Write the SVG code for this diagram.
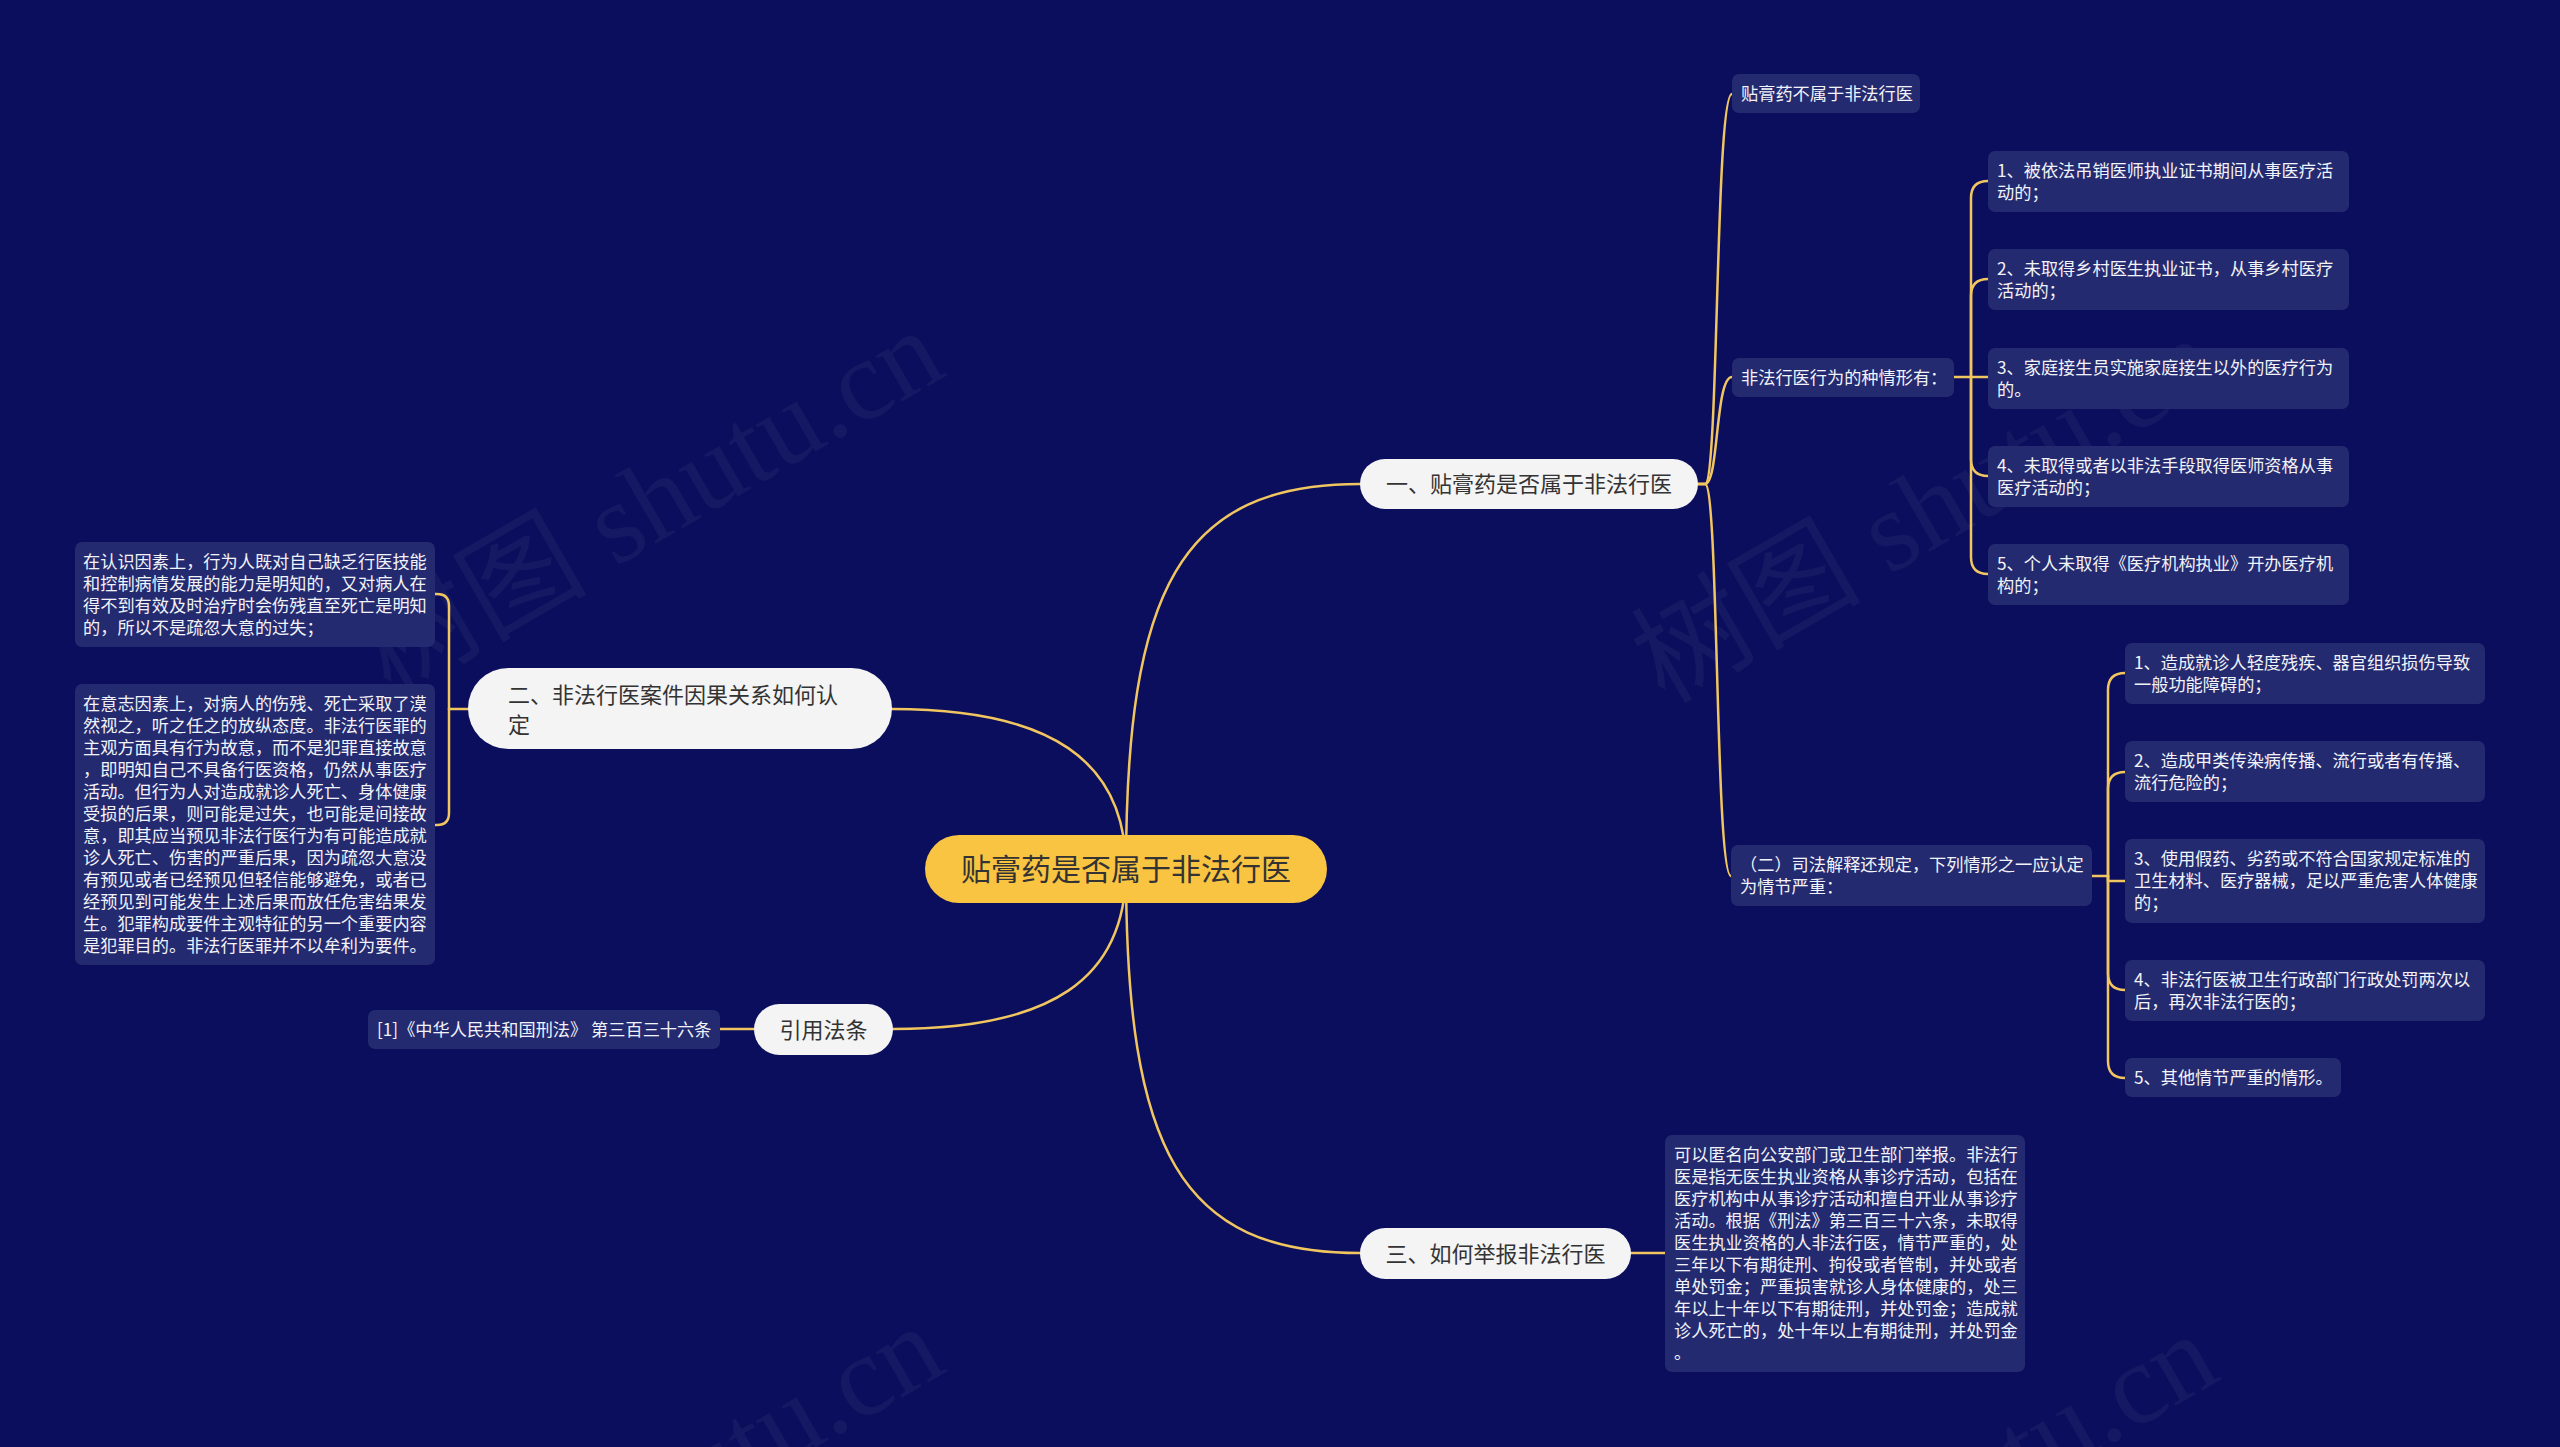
<svg xmlns="http://www.w3.org/2000/svg" width="2560" height="1447" viewBox="0 0 2560 1447">
<style>
text{font-family:"Noto Sans CJK SC","Noto Sans",sans-serif;}
.bg{fill:#0b0e5c;}
.wm{fill:#ffffff;fill-opacity:0.045;font-size:115px;font-family:"Liberation Serif","Noto Sans CJK SC",serif;}
.c{fill:none;stroke:#f1c660;stroke-width:2.5;stroke-linecap:round;}
.leaf rect{fill:#242a70;}
.leaf text{fill:#f2f3f8;font-size:17.2px;}
.l1 rect{fill:#f4f4f4;}
.l1 text{fill:#333333;font-size:22px;}
.root rect{fill:#f9c441;}
.root text{fill:#333333;font-size:30px;}
</style>
<rect class="bg" x="0" y="0" width="2560" height="1447"/>
<g id="watermarks">
<text class="wm" x="653" y="540" text-anchor="middle" transform="rotate(-30 653 506)">树图 shutu.cn</text>
<text class="wm" x="1927" y="548" text-anchor="middle" transform="rotate(-30 1927 514)">树图 shutu.cn</text>
<text class="wm" x="653" y="1536" text-anchor="middle" transform="rotate(-30 653 1502)">树图 shutu.cn</text>
<text class="wm" x="1927" y="1544" text-anchor="middle" transform="rotate(-30 1927 1510)">树图 shutu.cn</text>
</g>
<g id="connectors">
<path class="c" d="M1126 869 C1126 590 1180 484 1360 484"/>
<path class="c" d="M1126 869 C1126 760 1050 709 892 709"/>
<path class="c" d="M1126 869 C1126 980 1050 1029 893 1029"/>
<path class="c" d="M1126 869 C1126 1150 1180 1253 1360 1253"/>
<path class="c" d="M1698 484 H1705 C1719 484 1715 94 1732 94"/>
<path class="c" d="M1698 484 H1705 C1719 484 1715 377 1732 377"/>
<path class="c" d="M1698 484 H1705 C1719 484 1715 876 1731 876"/>
<path class="c" d="M468 709 H449"/>
<path class="c" d="M449 709 V606 Q449 594 437 594 H435"/>
<path class="c" d="M449 709 V813 Q449 825 437 825 H435"/>
<path class="c" d="M754 1029 H720"/>
<path class="c" d="M1631 1253 H1665"/>
<path class="c" d="M1954 377 H1988"/>
<path class="c" d="M1971 377 V198 Q1971 181 1988 181"/>
<path class="c" d="M1971 377 V296 Q1971 279 1988 279"/>
<path class="c" d="M1971 377 V459 Q1971 476 1988 476"/>
<path class="c" d="M1971 377 V557 Q1971 574 1988 574"/>
<path class="c" d="M2092 876 H2108"/>
<path class="c" d="M2108 876 V690 Q2108 673 2125 673"/>
<path class="c" d="M2108 876 V789 Q2108 772 2125 772"/>
<path class="c" d="M2108 876 V881 H2125"/>
<path class="c" d="M2108 876 V973 Q2108 990 2125 990"/>
<path class="c" d="M2108 876 V1061 Q2108 1078 2125 1078"/>
</g>
<g id="root" class="root">
<rect x="925" y="835" width="402" height="68" rx="34"/>
<text x="1126" y="880" text-anchor="middle">贴膏药是否属于非法行医</text>
</g>
<g id="n1" class="l1">
<rect x="1360" y="459" width="338" height="50" rx="25"/>
<text x="1529" y="492" text-anchor="middle">一、贴膏药是否属于非法行医</text>
</g>
<g id="n2" class="l1">
<rect x="468" y="668" width="424" height="81" rx="40.5"/>
<text x="508" y="703">二、非法行医案件因果关系如何认</text>
<text x="508" y="733">定</text>
</g>
<g id="n3" class="l1">
<rect x="754" y="1004" width="139" height="51" rx="25.5"/>
<text x="823.5" y="1038" text-anchor="middle">引用法条</text>
</g>
<g id="n4" class="l1">
<rect x="1360" y="1228" width="271" height="51" rx="25.5"/>
<text x="1495.5" y="1262" text-anchor="middle">三、如何举报非法行医</text>
</g>
<g id="n1a" class="leaf">
<rect x="1732" y="74" width="188" height="39" rx="7"/>
<text x="1741" y="100">贴膏药不属于非法行医</text>
</g>
<g id="n1b" class="leaf">
<rect x="1732" y="358" width="222" height="39" rx="7"/>
<text x="1741" y="384">非法行医行为的种情形有：</text>
</g>
<g id="n1b1" class="leaf">
<rect x="1988" y="151" width="361" height="61" rx="7"/>
<text x="1997" y="177">1、被依法吊销医师执业证书期间从事医疗活</text>
<text x="1997" y="199">动的；</text>
</g>
<g id="n1b2" class="leaf">
<rect x="1988" y="249" width="361" height="61" rx="7"/>
<text x="1997" y="275">2、未取得乡村医生执业证书，从事乡村医疗</text>
<text x="1997" y="297">活动的；</text>
</g>
<g id="n1b3" class="leaf">
<rect x="1988" y="348" width="361" height="61" rx="7"/>
<text x="1997" y="374">3、家庭接生员实施家庭接生以外的医疗行为</text>
<text x="1997" y="396">的。</text>
</g>
<g id="n1b4" class="leaf">
<rect x="1988" y="446" width="361" height="61" rx="7"/>
<text x="1997" y="472">4、未取得或者以非法手段取得医师资格从事</text>
<text x="1997" y="494">医疗活动的；</text>
</g>
<g id="n1b5" class="leaf">
<rect x="1988" y="544" width="361" height="61" rx="7"/>
<text x="1997" y="570">5、个人未取得《医疗机构执业》开办医疗机</text>
<text x="1997" y="592">构的；</text>
</g>
<g id="n1c" class="leaf">
<rect x="1731" y="845" width="361" height="61" rx="7"/>
<text x="1740" y="871">（二）司法解释还规定，下列情形之一应认定</text>
<text x="1740" y="893">为情节严重：</text>
</g>
<g id="n1c1" class="leaf">
<rect x="2125" y="643" width="360" height="61" rx="7"/>
<text x="2134" y="669">1、造成就诊人轻度残疾、器官组织损伤导致</text>
<text x="2134" y="691">一般功能障碍的；</text>
</g>
<g id="n1c2" class="leaf">
<rect x="2125" y="741" width="360" height="61" rx="7"/>
<text x="2134" y="767">2、造成甲类传染病传播、流行或者有传播、</text>
<text x="2134" y="789">流行危险的；</text>
</g>
<g id="n1c3" class="leaf">
<rect x="2125" y="839" width="360" height="84" rx="7"/>
<text x="2134" y="865">3、使用假药、劣药或不符合国家规定标准的</text>
<text x="2134" y="887">卫生材料、医疗器械，足以严重危害人体健康</text>
<text x="2134" y="909">的；</text>
</g>
<g id="n1c4" class="leaf">
<rect x="2125" y="960" width="360" height="61" rx="7"/>
<text x="2134" y="986">4、非法行医被卫生行政部门行政处罚两次以</text>
<text x="2134" y="1008">后，再次非法行医的；</text>
</g>
<g id="n1c5" class="leaf">
<rect x="2125" y="1058" width="216" height="39" rx="7"/>
<text x="2134" y="1084">5、其他情节严重的情形。</text>
</g>
<g id="n2a" class="leaf">
<rect x="75" y="542" width="360" height="105" rx="7"/>
<text x="83" y="568">在认识因素上，行为人既对自己缺乏行医技能</text>
<text x="83" y="590">和控制病情发展的能力是明知的，又对病人在</text>
<text x="83" y="612">得不到有效及时治疗时会伤残直至死亡是明知</text>
<text x="83" y="634">的，所以不是疏忽大意的过失；</text>
</g>
<g id="n2b" class="leaf">
<rect x="75" y="684" width="360" height="281" rx="7"/>
<text x="83" y="710">在意志因素上，对病人的伤残、死亡采取了漠</text>
<text x="83" y="732">然视之，听之任之的放纵态度。非法行医罪的</text>
<text x="83" y="754">主观方面具有行为故意，而不是犯罪直接故意</text>
<text x="83" y="776">，即明知自己不具备行医资格，仍然从事医疗</text>
<text x="83" y="798">活动。但行为人对造成就诊人死亡、身体健康</text>
<text x="83" y="820">受损的后果，则可能是过失，也可能是间接故</text>
<text x="83" y="842">意，即其应当预见非法行医行为有可能造成就</text>
<text x="83" y="864">诊人死亡、伤害的严重后果，因为疏忽大意没</text>
<text x="83" y="886">有预见或者已经预见但轻信能够避免，或者已</text>
<text x="83" y="908">经预见到可能发生上述后果而放任危害结果发</text>
<text x="83" y="930">生。犯罪构成要件主观特征的另一个重要内容</text>
<text x="83" y="952">是犯罪目的。非法行医罪并不以牟利为要件。</text>
</g>
<g id="n3a" class="leaf">
<rect x="368" y="1010" width="352" height="39" rx="7"/>
<text x="377" y="1036">[1]《中华人民共和国刑法》 第三百三十六条</text>
</g>
<g id="n4a" class="leaf">
<rect x="1665" y="1135" width="360" height="237" rx="7"/>
<text x="1674" y="1161">可以匿名向公安部门或卫生部门举报。非法行</text>
<text x="1674" y="1183">医是指无医生执业资格从事诊疗活动，包括在</text>
<text x="1674" y="1205">医疗机构中从事诊疗活动和擅自开业从事诊疗</text>
<text x="1674" y="1227">活动。根据《刑法》第三百三十六条，未取得</text>
<text x="1674" y="1249">医生执业资格的人非法行医，情节严重的，处</text>
<text x="1674" y="1271">三年以下有期徒刑、拘役或者管制，并处或者</text>
<text x="1674" y="1293">单处罚金；严重损害就诊人身体健康的，处三</text>
<text x="1674" y="1315">年以上十年以下有期徒刑，并处罚金；造成就</text>
<text x="1674" y="1337">诊人死亡的，处十年以上有期徒刑，并处罚金</text>
<text x="1674" y="1359">。</text>
</g>
</svg>
